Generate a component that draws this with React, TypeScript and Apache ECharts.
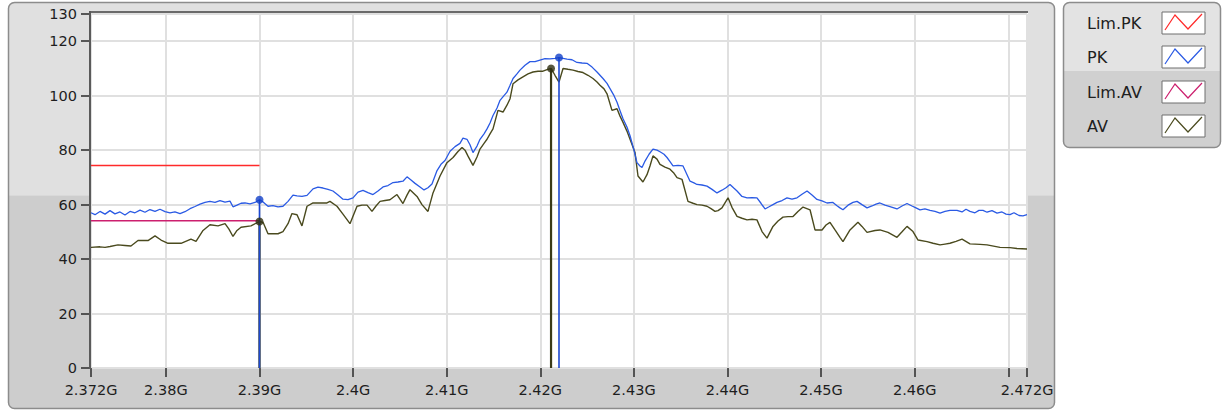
import React, { useEffect, useRef } from "react";
import * as echarts from "echarts";

// Frequencies in MHz, levels in dBuV
const pkTrace: [number, number][] = [
  [2372.00,57.0],[2372.43,56.3],[2372.96,57.5],[2373.50,56.5],[2374.03,57.8],[2374.56,56.6],[2375.10,57.3],[2375.63,56.2],[2376.17,57.5],[2376.70,57.0],[2377.24,58.0],[2377.77,57.2],[2378.30,58.2],[2378.84,57.5],[2379.37,58.3],[2379.91,57.4],[2380.44,57.0],[2380.97,57.3],[2381.51,56.7],[2382.04,57.4],[2382.58,58.5],[2383.11,59.3],[2383.65,60.2],[2384.18,60.8],[2384.71,61.2],[2385.25,60.8],[2385.78,61.5],[2386.32,60.9],[2386.85,61.3],[2387.17,59.2],[2387.60,59.8],[2388.03,60.5],[2388.45,60.6],[2388.99,60.3],[2389.52,60.8],[2390.00,61.8],[2390.38,61.0],[2390.91,59.4],[2391.44,59.6],[2391.98,59.2],[2392.51,59.4],[2393.05,61.2],[2393.58,63.5],[2394.01,63.2],[2394.54,63.0],[2395.08,63.4],[2395.72,65.8],[2396.25,66.4],[2396.79,66.1],[2397.32,65.6],[2397.85,65.0],[2398.39,63.5],[2398.92,62.0],[2399.46,61.8],[2399.99,62.5],[2400.53,64.6],[2401.06,65.2],[2401.59,64.4],[2402.13,63.7],[2402.66,65.0],[2403.20,66.5],[2403.73,67.0],[2404.27,68.1],[2404.80,68.3],[2405.33,68.6],[2405.76,70.2],[2406.19,69.0],[2406.62,67.8],[2407.15,66.5],[2407.58,65.4],[2408.00,66.2],[2408.43,67.6],[2408.97,72.5],[2409.39,74.8],[2409.82,76.2],[2410.36,79.6],[2410.89,81.3],[2411.42,82.5],[2411.74,84.4],[2412.17,84.0],[2412.49,82.0],[2412.81,79.1],[2413.24,81.5],[2413.56,84.0],[2413.99,86.0],[2414.31,87.8],[2414.63,90.0],[2414.95,92.7],[2415.38,95.5],[2415.70,98.3],[2416.12,100.0],[2416.44,101.3],[2416.77,103.8],[2417.09,106.3],[2417.51,108.0],[2417.83,109.4],[2418.37,111.2],[2418.90,112.5],[2419.44,112.5],[2419.97,113.1],[2420.50,113.6],[2421.04,113.5],[2421.57,113.7],[2422.00,114.0],[2422.43,113.7],[2422.86,113.4],[2423.39,113.2],[2423.92,112.2],[2424.46,112.0],[2424.99,111.9],[2425.53,110.5],[2426.06,108.7],[2426.70,106.3],[2427.13,104.5],[2427.45,102.6],[2427.88,100.0],[2428.20,97.6],[2428.52,94.5],[2428.84,91.5],[2429.26,88.5],[2429.59,85.3],[2430.01,80.0],[2430.33,75.4],[2430.65,74.2],[2430.87,73.6],[2431.19,76.0],[2431.62,78.5],[2432.04,80.4],[2432.47,80.0],[2432.79,79.4],[2433.22,78.5],[2433.54,77.3],[2433.86,75.8],[2434.18,74.2],[2434.71,74.4],[2435.25,74.2],[2435.68,71.0],[2436.00,68.6],[2436.42,68.0],[2436.74,67.4],[2437.28,67.2],[2437.81,66.8],[2438.35,65.6],[2438.88,64.3],[2439.41,65.3],[2439.84,66.2],[2440.27,67.4],[2440.70,66.0],[2441.02,65.0],[2441.55,63.0],[2442.09,62.5],[2442.62,62.6],[2443.15,62.5],[2443.58,60.5],[2444.01,58.4],[2444.44,59.2],[2444.86,60.0],[2445.29,60.8],[2445.83,61.5],[2446.36,62.5],[2446.89,62.0],[2447.43,62.5],[2447.96,63.8],[2448.50,65.0],[2449.03,63.5],[2449.56,61.9],[2450.10,61.4],[2450.63,60.6],[2451.27,60.8],[2451.70,59.6],[2452.02,58.8],[2452.34,58.1],[2452.88,59.8],[2453.41,60.8],[2453.84,61.2],[2454.37,60.0],[2454.91,58.8],[2455.44,59.5],[2455.87,60.2],[2456.29,60.6],[2456.83,59.8],[2457.36,59.3],[2458.11,58.4],[2458.65,59.5],[2459.18,60.4],[2459.71,59.5],[2460.14,58.8],[2460.57,58.1],[2461.10,58.4],[2461.64,57.9],[2462.17,57.5],[2462.71,56.9],[2463.24,57.5],[2463.77,57.9],[2464.52,57.9],[2465.06,57.3],[2465.48,58.3],[2465.91,57.5],[2466.44,57.0],[2466.87,57.9],[2467.30,57.9],[2467.73,57.2],[2468.26,57.8],[2468.80,56.9],[2469.33,57.3],[2469.76,56.5],[2470.18,56.3],[2470.61,57.0],[2471.15,56.0],[2471.57,55.9],[2472.00,56.3]
];

const avTrace: [number, number][] = [
  [2372.00,44.3],[2372.96,44.5],[2373.50,44.3],[2374.03,44.6],[2374.88,45.2],[2375.63,45.0],[2376.27,44.8],[2377.02,46.8],[2378.09,46.8],[2378.84,48.5],[2379.48,47.0],[2380.23,45.8],[2380.97,45.8],[2381.62,45.8],[2382.68,47.3],[2383.22,46.5],[2383.97,50.5],[2384.71,52.6],[2385.57,52.2],[2386.32,53.0],[2386.74,51.0],[2387.17,48.3],[2387.60,50.5],[2388.03,51.7],[2389.09,52.2],[2390.00,53.8],[2390.38,53.5],[2390.91,49.3],[2391.98,49.3],[2392.51,50.1],[2393.05,53.0],[2393.47,56.7],[2394.01,56.3],[2394.54,52.2],[2395.08,59.4],[2395.72,60.6],[2396.47,60.6],[2397.21,60.6],[2397.53,61.2],[2398.28,59.4],[2398.92,56.5],[2399.67,53.0],[2400.42,59.4],[2400.95,59.8],[2401.49,59.8],[2402.02,57.5],[2402.45,59.5],[2402.88,61.2],[2403.41,61.5],[2403.94,61.8],[2404.69,63.7],[2405.33,60.4],[2405.76,63.5],[2406.08,65.5],[2406.83,63.0],[2407.36,60.0],[2408.00,57.5],[2408.54,64.3],[2409.29,70.5],[2410.03,75.4],[2410.68,77.3],[2411.21,79.5],[2411.64,81.0],[2411.96,80.0],[2412.28,77.8],[2412.81,74.4],[2413.24,77.5],[2413.56,80.4],[2413.99,82.5],[2414.31,84.0],[2414.63,86.0],[2414.95,87.8],[2415.48,94.6],[2416.02,94.0],[2416.44,96.5],[2416.77,98.9],[2417.09,104.4],[2417.62,105.8],[2418.15,106.9],[2418.69,108.0],[2419.22,108.7],[2419.76,109.0],[2420.29,109.0],[2420.72,109.6],[2421.15,110.0],[2421.57,107.5],[2422.00,105.0],[2422.43,110.0],[2422.96,109.7],[2423.50,109.4],[2424.03,108.9],[2424.56,108.5],[2425.10,107.5],[2425.63,106.3],[2426.06,105.0],[2426.38,103.8],[2426.81,102.5],[2427.13,100.7],[2427.66,94.6],[2428.20,95.2],[2428.52,92.5],[2428.84,90.2],[2429.26,87.0],[2429.59,84.0],[2430.12,79.1],[2430.44,70.5],[2430.97,68.3],[2431.40,71.0],[2431.72,74.2],[2432.04,77.9],[2432.47,76.7],[2432.79,74.8],[2433.32,73.8],[2433.86,73.0],[2434.29,71.5],[2434.61,69.9],[2435.14,69.3],[2435.78,61.2],[2436.32,60.5],[2436.74,60.0],[2437.28,59.8],[2437.81,59.4],[2438.24,58.5],[2438.67,57.5],[2438.99,57.8],[2439.41,58.8],[2440.06,62.5],[2440.48,59.0],[2441.02,55.7],[2441.55,55.0],[2442.09,54.4],[2442.62,54.6],[2443.15,54.4],[2443.69,50.1],[2444.22,47.7],[2444.86,52.0],[2445.40,54.0],[2445.93,55.4],[2446.47,55.6],[2447.00,55.6],[2447.53,57.5],[2448.07,59.1],[2448.82,58.1],[2449.35,50.7],[2450.10,50.7],[2450.53,52.5],[2450.95,53.5],[2451.49,50.7],[2452.02,48.0],[2452.34,46.4],[2453.09,50.7],[2453.94,53.5],[2454.37,52.0],[2454.91,49.8],[2455.76,50.5],[2456.29,50.7],[2457.15,49.8],[2458.11,48.0],[2458.65,50.0],[2459.18,52.0],[2459.82,50.1],[2460.36,47.0],[2461.32,46.4],[2461.96,45.8],[2462.71,45.2],[2463.24,45.5],[2463.77,45.8],[2464.42,46.5],[2465.06,47.3],[2465.91,45.6],[2466.98,45.4],[2467.73,45.2],[2469.12,44.3],[2470.18,44.2],[2470.93,43.9],[2472.00,43.7]
];

const limitFreqs = [2372, 2390];
const limPkLevel = 74.4;
const limAvLevel = 54.1;

const pkMarkers: [number, number][] = [[2390.0, 61.8], [2422.0, 114.0]];
const avMarkers: [number, number][] = [[2390.0, 53.8], [2421.15, 110.0]];

const xTicks = [2372, 2380, 2390, 2400, 2410, 2420, 2430, 2440, 2450, 2460, 2470, 2472];
const xLabels = [2372, 2380, 2390, 2400, 2410, 2420, 2430, 2440, 2450, 2460, 2472];
const yTicks = [0, 20, 40, 60, 80, 100, 120, 130];

const legendNames = ["Lim.PK", "PK", "Lim.AV", "AV"];

const C_PK = "#2a5ae4";
const C_AV = "#4a4a1e";
const C_LIMPK = "#ff2a2a";
const C_LIMAV = "#cc1f6e";
const legendColors = [C_LIMPK, C_PK, C_LIMAV, C_AV];

const FONT = '"DejaVu Sans", Verdana, sans-serif';

export default function App() {
  const ref = useRef<HTMLDivElement>(null);
  useEffect(() => {
    if (!ref.current) return;
    const chart = echarts.init(ref.current, undefined, { renderer: "svg" });

    const legendEls: any[] = [];
    const rowY = [23, 57, 92, 126];
    legendNames.forEach((name, i) => {
      const cy = rowY[i];
      legendEls.push({
        type: "text",
        z: 20,
        x: 1087,
        y: cy,
        style: { text: name, fill: "#202020", font: `16px ${FONT}`, verticalAlign: "middle", align: "left" },
      });
      const bx = 1162, by = cy - 11;
      legendEls.push({
        type: "rect",
        z: 20,
        shape: { x: bx, y: by, width: 43, height: 22 },
        style: { fill: "#ffffff", stroke: "#6e6e6e", lineWidth: 1 },
      });
      legendEls.push({
        type: "polyline",
        z: 21,
        shape: { points: [[bx + 3, by + 18], [bx + 13, by + 3], [bx + 26, by + 17], [bx + 40, by + 2]] },
        style: { stroke: legendColors[i], lineWidth: 1.2, fill: null },
      });
    });

    const verticals = (pts: [number, number][], color: string, width: number, name: string) =>
      pts.map((p) => ({
        type: "line",
        name,
        data: [[p[0], 0], [p[0], p[1]]],
        showSymbol: false,
        symbol: "none",
        lineStyle: { color, width },
        z: 4,
        silent: true,
      }));

    chart.setOption({
      animation: false,
      grid: { left: 91, right: 196, top: 14, bottom: 46, show: false },
      graphic: [
        {
          type: "rect",
          z: -20,
          shape: { x: 8.5, y: 2.5, width: 1046, height: 406, r: 6 },
          style: {
            fill: new echarts.graphic.LinearGradient(0, 0, 0, 1, [
              { offset: 0, color: "#e0e0e0" },
              { offset: 0.475, color: "#e0e0e0" },
              { offset: 0.476, color: "#cdcdcd" },
              { offset: 1, color: "#cdcdcd" },
            ]),
            stroke: "#8c8c8c",
            lineWidth: 1.5,
          },
        },
        {
          type: "rect",
          z: -15,
          shape: { x: 91, y: 13, width: 937, height: 356 },
          style: { fill: "#ffffff" },
        },
        {
          type: "line",
          z: -14,
          shape: { x1: 90, y1: 12, x2: 1028, y2: 12 },
          style: { stroke: "#6a6a6a", lineWidth: 2 },
        },
        {
          type: "line",
          z: 10,
          shape: { x1: 90, y1: 11, x2: 90, y2: 369 },
          style: { stroke: "#5a5a5a", lineWidth: 2 },
        },
        {
          type: "rect",
          z: -20,
          shape: { x: 1063.5, y: 2.5, width: 157, height: 145, r: 6 },
          style: {
            fill: new echarts.graphic.LinearGradient(0, 0, 0, 1, [
              { offset: 0, color: "#e3e3e3" },
              { offset: 0.47, color: "#e3e3e3" },
              { offset: 0.471, color: "#d0d0d0" },
              { offset: 1, color: "#d0d0d0" },
            ]),
            stroke: "#8c8c8c",
            lineWidth: 1.5,
          },
        },
        ...legendEls,
      ],
      xAxis: {
        type: "value",
        min: 2372,
        max: 2472,
        axisLine: { show: false },
        axisTick: {
          show: true,
          customValues: xTicks,
          length: 9,
          lineStyle: { color: "#2a2a2a", width: 1.5 },
        },
        axisLabel: {
          customValues: xLabels,
          margin: 14,
          color: "#1e1e1e",
          fontFamily: FONT,
          fontSize: 14.5,
          formatter: (v: number) => parseFloat((v / 1000).toFixed(3)) + "G",
        },
        splitLine: { show: true, lineStyle: { color: "#e0e0e0", width: 2 } },
      },
      yAxis: {
        type: "value",
        min: 0,
        max: 130,
        axisLine: { show: false },
        axisTick: {
          show: true,
          customValues: yTicks,
          length: 10,
          lineStyle: { color: "#2a2a2a", width: 1.5 },
        },
        axisLabel: {
          customValues: yTicks,
          margin: 14,
          color: "#1e1e1e",
          fontFamily: FONT,
          fontSize: 14.5,
        },
        splitLine: { show: true, lineStyle: { color: "#e0e0e0", width: 2 } },
      },
      series: [
        {
          type: "line",
          name: "Lim.PK",
          data: limitFreqs.map((f) => [f, limPkLevel]),
          showSymbol: false,
          lineStyle: { color: C_LIMPK, width: 1.5 },
          z: 3,
        },
        {
          type: "line",
          name: "Lim.AV",
          data: limitFreqs.map((f) => [f, limAvLevel]),
          showSymbol: false,
          lineStyle: { color: C_LIMAV, width: 1.5 },
          z: 3,
        },
        {
          type: "line",
          name: "AV",
          data: avTrace,
          showSymbol: false,
          lineStyle: { color: C_AV, width: 1.4 },
          z: 3,
        },
        {
          type: "line",
          name: "PK",
          data: pkTrace,
          showSymbol: false,
          lineStyle: { color: C_PK, width: 1.3 },
          z: 3,
        },
        ...verticals(avMarkers, "#3a3a18", 2.2, "AV marker line"),
        ...verticals(pkMarkers, "#1c48d0", 1.6, "PK marker line"),
        {
          type: "scatter",
          name: "AV marker",
          data: avMarkers,
          symbolSize: 8,
          itemStyle: { color: "#2e2e10" },
          z: 6,
        },
        {
          type: "scatter",
          name: "PK marker",
          data: pkMarkers,
          symbolSize: 8,
          itemStyle: { color: "#1240c8" },
          z: 6,
        },
      ],
    });
    return () => chart.dispose();
  }, []);

  return (
    <div
      ref={ref}
      style={{ position: "absolute", left: 0, top: 0, width: 1223, height: 414, background: "#ffffff" }}
    />
  );
}
